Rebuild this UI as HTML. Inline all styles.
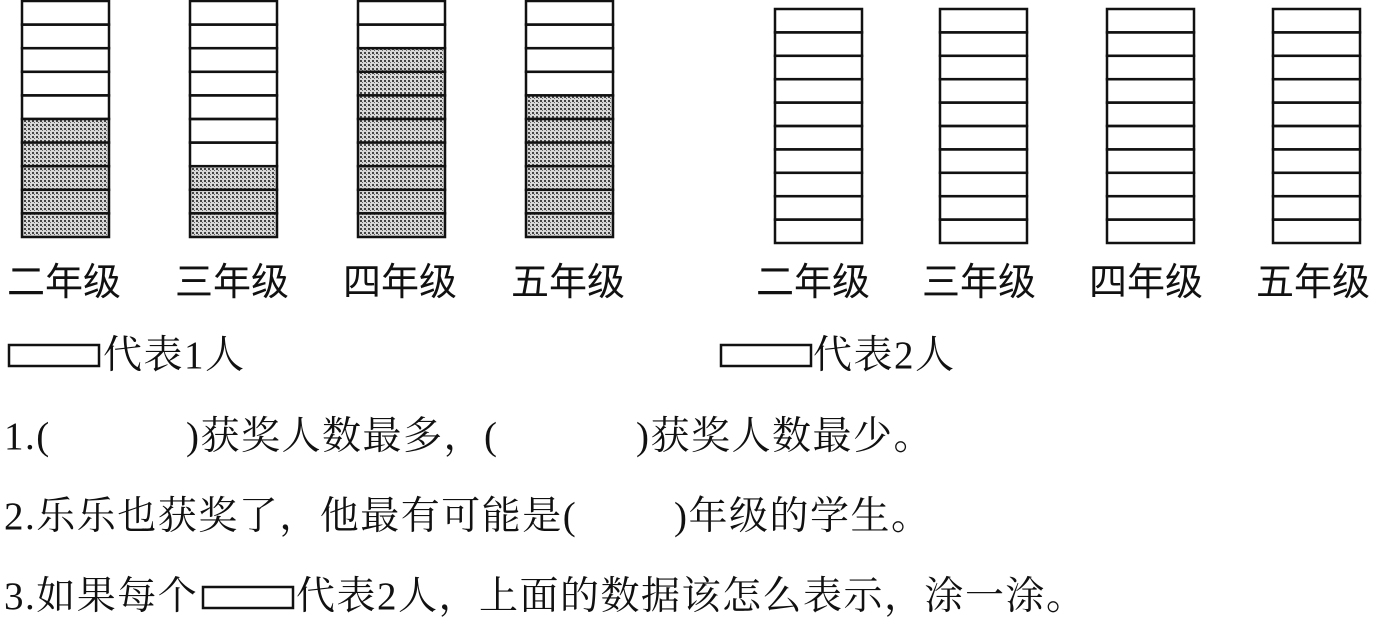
<!DOCTYPE html>
<html><head><meta charset="utf-8"><style>
body{margin:0;background:#fff;}
.w{position:relative;width:1400px;height:630px;overflow:hidden;}
svg{position:absolute;left:0;top:0;}
.t{position:absolute;white-space:nowrap;color:#111;line-height:1;}
.h{font-family:"Liberation Sans","Noto Sans CJK SC",sans-serif;font-size:38px;}
.s{font-family:"Liberation Serif","Noto Serif CJK SC",serif;font-size:39px;letter-spacing:1.5px;}
</style></head><body><div class="w">
<svg width="1400" height="630" xmlns="http://www.w3.org/2000/svg">
<defs>
<pattern id="p" width="4" height="4" patternUnits="userSpaceOnUse">
<rect width="4" height="4" fill="#d8d8d8"/>
<rect x="0" y="0" width="2" height="2" fill="#444"/>
<rect x="2" y="2" width="1" height="1" fill="#666"/>
</pattern>
</defs>
<g id="L" stroke="#111" stroke-width="2.5" fill="none"></g>
</svg>
<div class="t h" style="left:7px;top:264px">二年级</div>
<div class="t h" style="left:175px;top:264px">三年级</div>
<div class="t h" style="left:343px;top:264px">四年级</div>
<div class="t h" style="left:511px;top:264px">五年级</div>
<div class="t h" style="left:756px;top:264px">二年级</div>
<div class="t h" style="left:922px;top:264px">三年级</div>
<div class="t h" style="left:1089px;top:264px">四年级</div>
<div class="t h" style="left:1256px;top:264px">五年级</div>
<div class="t s" style="left:103px;top:336px">代表1人</div>
<div class="t s" style="left:813px;top:336px">代表2人</div>
<div class="t s" style="left:4px;top:417px">1.(</div>
<div class="t s" style="left:186px;top:417px">)获奖人数最多，(</div>
<div class="t s" style="left:636px;top:417px">)获奖人数最少。</div>
<div class="t s" style="left:4px;top:497px">2.乐乐也获奖了，他最有可能是(</div>
<div class="t s" style="left:674px;top:497px">)年级的学生。</div>
<div class="t s" style="left:4px;top:577px">3.如果每个</div>
<div class="t s" style="left:296px;top:577px">代表2人，上面的数据该怎么表示，涂一涂。</div>
</div>
<script>
var g=document.getElementById('L'),ns='http://www.w3.org/2000/svg';
function r(x,y,w,h,f){var e=document.createElementNS(ns,'rect');e.setAttribute('x',x);e.setAttribute('y',y);e.setAttribute('width',w);e.setAttribute('height',h);if(f)e.setAttribute('fill',f);g.appendChild(e);}
function bar(x,top,bot,shade){var w=87,h=(bot-top)/10;for(var i=0;i<10;i++){var y=top+i*h;r(x,y,w,h,(10-i)<=shade?'url(#p)':null);}}
bar(22,1,237,5);bar(190,1,237,3);bar(358,1,237,8);bar(526,1,237,6);
bar(775,9,243,0);bar(940,9,243,0);bar(1107,9,243,0);bar(1273,9,243,0);
r(9,345,90,21);r(721,345,90,21);r(203,587,90,21);
</script>
</body></html>
